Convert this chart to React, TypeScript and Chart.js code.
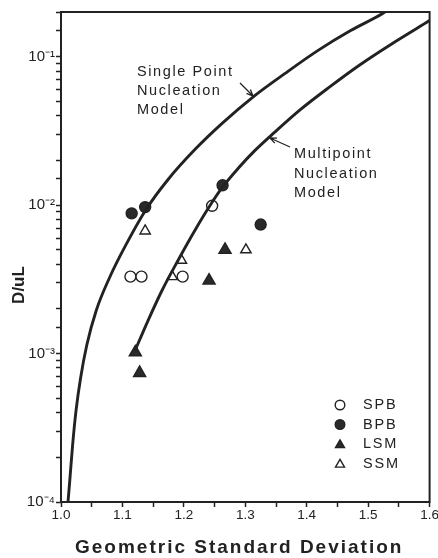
import React, { useEffect, useRef } from 'react';
import { Chart, registerables } from 'chart.js';

Chart.register(...registerables);

// ---- axis limits and ticks ----
const xMin = 1.0;
const xMax = 1.6;
const xStep = 0.05;
const yMin = 1e-4;
const yMax = 0.2;

// ---- titles / labels ----
const xTitle = 'Geometric Standard Deviation';
const yTitle = 'D/uL';
const spnLabel = ['Single Point', 'Nucleation', 'Model'];
const mpnLabel = ['Multipoint', 'Nucleation', 'Model'];
const seriesLabels = ['SPB', 'BPB', 'LSM', 'SSM'];

// ---- measured points ----
const spbX = [1.113, 1.131, 1.198, 1.246];
const spbY = [0.0033, 0.0033, 0.0033, 0.0099];
const bpbX = [1.115, 1.137, 1.263, 1.325];
const bpbY = [0.0088, 0.0097, 0.0136, 0.0074];
const lsmX = [1.121, 1.128, 1.241, 1.267];
const lsmY = [0.00102, 0.00074, 0.0031, 0.005];
const ssmX = [1.137, 1.181, 1.196, 1.301];
const ssmY = [0.0067, 0.0033, 0.00425, 0.005];

// ---- model curves ----
const spnX = [1.0114, 1.0146, 1.0189, 1.0244, 1.0319, 1.0421, 1.0575, 1.0795, 1.1041, 1.1382, 1.174, 1.2179, 1.2618, 1.3154, 1.3642, 1.4179, 1.4715, 1.5236, 1.538];
const spnY = [1e-4, 1.45e-4, 2.42e-4, 4.11e-4, 6.85e-4, 1.146e-3, 1.96e-3, 3.28e-3, 5.25e-3, 9.31e-3, 0.01483, 0.02366, 0.0354, 0.0547, 0.0769, 0.1099, 0.15, 0.1954, 0.214];
const mpnX = [1.1203, 1.1415, 1.1642, 1.1902, 1.2195, 1.2423, 1.2634, 1.2878, 1.3154, 1.348, 1.3886, 1.4374, 1.4862, 1.535, 1.6];
const mpnY = [1.043e-3, 1.662e-3, 2.65e-3, 4.22e-3, 6.93e-3, 9.9e-3, 0.0133, 0.01758, 0.02328, 0.03104, 0.04365, 0.0626, 0.0879, 0.1195, 0.175];

const INK = '#222222';
const FAMILY = '"Liberation Sans", Arial, Helvetica, sans-serif';

const toPts = (xs: number[], ys: number[]) => xs.map((x, i) => ({ x, y: ys[i] }));

const SUP: Record<string, string> = {
  '-': '\u207B', '0': '\u2070', '1': '\u00B9', '2': '\u00B2', '3': '\u00B3',
  '4': '\u2074', '5': '\u2075', '6': '\u2076', '7': '\u2077', '8': '\u2078', '9': '\u2079',
};
const sup = (n: number) => String(n).split('').map((c) => SUP[c] || c).join('');

function drawMarker(ctx: CanvasRenderingContext2D, style: string, x: number, y: number, r: number, fill: string) {
  ctx.beginPath();
  if (style === 'circle') {
    ctx.arc(x, y, r, 0, Math.PI * 2);
  } else {
    let a = 0;
    ctx.moveTo(x + Math.sin(a) * r, y - Math.cos(a) * r);
    for (let k = 0; k < 2; k++) {
      a += (2 * Math.PI) / 3;
      ctx.lineTo(x + Math.sin(a) * r, y - Math.cos(a) * r);
    }
    ctx.closePath();
  }
  ctx.fillStyle = fill;
  ctx.fill();
  ctx.lineWidth = 1.4;
  ctx.strokeStyle = INK;
  ctx.stroke();
}

function arrow(ctx: CanvasRenderingContext2D, x0: number, y0: number, x1: number, y1: number) {
  ctx.beginPath();
  ctx.moveTo(x0, y0);
  ctx.lineTo(x1, y1);
  const ang = Math.atan2(y1 - y0, x1 - x0);
  const h = 7;
  ctx.moveTo(x1 - h * Math.cos(ang - 0.4), y1 - h * Math.sin(ang - 0.4));
  ctx.lineTo(x1, y1);
  ctx.lineTo(x1 - h * Math.cos(ang + 0.4), y1 - h * Math.sin(ang + 0.4));
  ctx.lineWidth = 1.3;
  ctx.strokeStyle = INK;
  ctx.stroke();
}

const decorPlugin = {
  id: 'decor',
  afterDraw(chart: any) {
    const { ctx, chartArea } = chart;
    const { left, top, right, bottom } = chartArea;
    ctx.save();
    // frame
    ctx.lineWidth = 2;
    ctx.strokeStyle = INK;
    ctx.strokeRect(left, top, right - left, bottom - top);

    ctx.fillStyle = INK;
    ctx.textBaseline = 'middle';

    // y title
    ctx.save();
    ctx.translate(19, 285);
    ctx.rotate(-Math.PI / 2);
    ctx.font = `bold 17px ${FAMILY}`;
    ctx.textAlign = 'center';
    ctx.fillText(yTitle, 0, 0);
    ctx.restore();

    // x title
    ctx.save();
    ctx.font = `bold 19px ${FAMILY}`;
    (ctx as any).letterSpacing = '2px';
    ctx.textAlign = 'left';
    ctx.fillText(xTitle, 75, 548);
    ctx.restore();

    // curve labels
    ctx.save();
    ctx.font = `14.5px ${FAMILY}`;
    (ctx as any).letterSpacing = '1.6px';
    ctx.textAlign = 'left';
    spnLabel.forEach((t, i) => ctx.fillText(t, 137, 72 + i * 19));
    mpnLabel.forEach((t, i) => ctx.fillText(t, 294, 154 + i * 19.5));
    ctx.restore();
    arrow(ctx, 240, 83, 253, 96);
    arrow(ctx, 290, 147, 270, 138);

    // legend
    const ds = chart.data.datasets.filter((d: any) => d.isSeries);
    ds.forEach((d: any, i: number) => {
      const y = 405 + i * 19.5;
      const r = d.pointStyle === 'circle' ? 4.8 : 5.2;
      drawMarker(ctx, d.pointStyle, 340, d.pointStyle === 'circle' ? y : y + 1, r, d.backgroundColor);
      ctx.save();
      ctx.font = `14.5px ${FAMILY}`;
      (ctx as any).letterSpacing = '1.8px';
      ctx.fillStyle = INK;
      ctx.textAlign = 'left';
      ctx.fillText(d.label, 363, y);
      ctx.restore();
    });
    ctx.restore();
  },
};

export default function App() {
  const ref = useRef<HTMLCanvasElement | null>(null);
  useEffect(() => {
    if (!ref.current) return;
    Chart.defaults.font.family = FAMILY;
    const markerStyles = [
      { pointStyle: 'circle', pointRadius: 5.5, backgroundColor: '#ffffff' },
      { pointStyle: 'circle', pointRadius: 5.5, backgroundColor: '#2a2a2a' },
      { pointStyle: 'triangle', pointRadius: 7, backgroundColor: '#2a2a2a' },
      { pointStyle: 'triangle', pointRadius: 6, backgroundColor: '#ffffff' },
    ];
    const series = [toPts(spbX, spbY), toPts(bpbX, bpbY), toPts(lsmX, lsmY), toPts(ssmX, ssmY)];
    const curve = (label: string, data: any[]) => ({
      label,
      data,
      showLine: true,
      borderColor: INK,
      borderWidth: 2.9,
      pointRadius: 0,
      cubicInterpolationMode: 'monotone',
      fill: false,
    });
    const chart = new Chart(ref.current, {
      type: 'scatter',
      data: {
        datasets: [
          curve('Single Point Nucleation Model', toPts(spnX, spnY)),
          curve('Multipoint Nucleation Model', toPts(mpnX, mpnY)),
          ...series.map((data, i) => ({
            label: seriesLabels[i],
            data,
            isSeries: true,
            showLine: false,
            borderColor: INK,
            borderWidth: 1.4,
            ...markerStyles[i],
          })),
        ] as any,
      },
      options: {
        animation: false,
        responsive: false,
        events: [],
        layout: { padding: { left: 0, right: 8, top: 12, bottom: 0 } },
        plugins: { legend: { display: false }, tooltip: { enabled: false } },
        scales: {
          x: {
            type: 'linear',
            min: xMin,
            max: xMax,
            afterFit(s: any) {
              s.height = 56;
              s.paddingLeft = 0;
              s.paddingRight = 0;
            },
            ticks: {
              stepSize: xStep,
              autoSkip: false,
              maxRotation: 0,
              padding: 0,
              color: INK,
              font: { size: 13.5 },
              callback(v: any) {
                const n = Number(v);
                return Math.abs(n * 10 - Math.round(n * 10)) < 1e-6 ? n.toFixed(1) : '';
              },
            },
            grid: { display: true, drawOnChartArea: false, drawTicks: true, tickLength: 5, tickColor: INK, tickWidth: 1.5 },
            border: { display: false },
          },
          y: {
            type: 'logarithmic',
            min: yMin,
            max: yMax,
            afterFit(s: any) {
              s.width = 61;
              s.paddingTop = 0;
              s.paddingBottom = 0;
            },
            ticks: {
              autoSkip: false,
              padding: 1,
              color: INK,
              font: { size: 15 },
              callback(v: any) {
                const e = Math.log10(Number(v));
                return Math.abs(e - Math.round(e)) < 1e-6 ? '10' + sup(Math.round(e)) : '';
              },
            },
            grid: { display: true, drawOnChartArea: false, drawTicks: true, tickLength: 5, tickColor: INK, tickWidth: 1.5 },
            border: { display: false },
          },
        },
      } as any,
      plugins: [decorPlugin],
    });
    return () => chart.destroy();
  }, []);
  return (
    <div style={{ position: 'absolute', left: 0, top: 0, width: 438, height: 558, background: '#fff' }}>
      <canvas ref={ref} width={438} height={558} style={{ display: 'block' }} />
    </div>
  );
}
